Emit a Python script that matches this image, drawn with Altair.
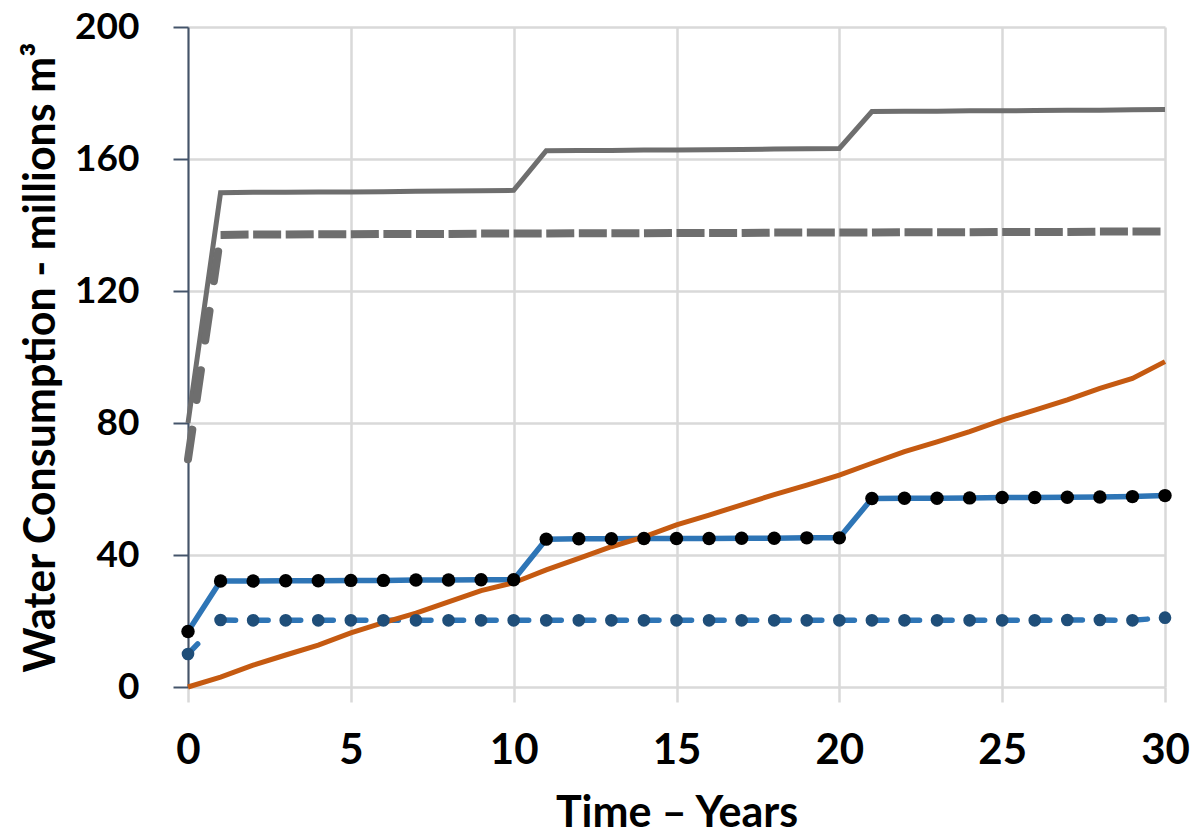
import altair as alt
import pandas as pd

years = list(range(31))

gray_solid = [80.0, 149.8, 149.9, 149.9, 150.0, 150.0, 150.1, 150.2, 150.3, 150.4, 150.5,
              162.5, 162.6, 162.6, 162.7, 162.7, 162.8, 162.9, 163.0, 163.1, 163.2,
              174.4, 174.5, 174.5, 174.6, 174.6, 174.7, 174.8, 174.8, 174.9, 175.0]

gray_dashed = [69.0, 137.0, 137.1, 137.1, 137.2, 137.2, 137.3, 137.3, 137.3, 137.4, 137.4,
               137.4, 137.5, 137.5, 137.5, 137.6, 137.6, 137.6, 137.7, 137.7, 137.7,
               137.7, 137.8, 137.8, 137.8, 137.9, 137.9, 137.9, 138.0, 138.0, 138.0]

orange = [0.0, 3.0, 6.6, 9.7, 12.7, 16.4, 19.5, 22.4, 25.8, 29.2, 31.6,
          35.5, 39.0, 42.5, 45.5, 49.1, 52.1, 55.2, 58.3, 61.2, 64.2,
          67.8, 71.3, 74.3, 77.4, 80.9, 83.9, 87.0, 90.5, 93.5, 98.6]

blue_solid = [16.8, 32.1, 32.1, 32.2, 32.2, 32.3, 32.3, 32.4, 32.4, 32.5, 32.5,
              44.8, 44.9, 44.9, 45.0, 45.0, 45.0, 45.1, 45.1, 45.2, 45.2,
              57.1, 57.2, 57.2, 57.3, 57.4, 57.4, 57.5, 57.6, 57.7, 58.0]

blue_dashed = [10.0, 20.3, 20.2, 20.2, 20.2, 20.2, 20.2, 20.2, 20.2, 20.2, 20.2,
               20.2, 20.2, 20.2, 20.2, 20.2, 20.2, 20.2, 20.2, 20.2, 20.2,
               20.2, 20.2, 20.2, 20.2, 20.2, 20.2, 20.3, 20.3, 20.2, 21.0]

x_ticks = [0, 5, 10, 15, 20, 25, 30]
y_ticks = [0, 40, 80, 120, 160, 200]

FONT = "Lato"
GRID = "#d9d9d9"
AXIS_DARK = "#44546a"


def df(xs, vs):
    return pd.DataFrame({"year": xs, "value": vs})


x_enc = alt.X(
    "year:Q",
    scale=alt.Scale(domain=[0, 30], nice=False, zero=False),
    axis=alt.Axis(
        values=x_ticks, title="Time – Years", grid=True, gridColor=GRID, gridWidth=2.5,
        domain=False, ticks=True, tickColor=GRID, tickWidth=2.5, tickSize=15,
        labelFont=FONT, labelFontWeight="bold", labelFontSize=42, labelColor="#000000",
        labelPadding=28, labelFlush=False,
        titleFont=FONT, titleFontWeight="bold", titleFontSize=43, titleColor="#000000",
        titleBaseline="alphabetic", titleY=139,
    ),
)

y_enc = alt.Y(
    "value:Q",
    scale=alt.Scale(domain=[0, 200], nice=False),
    axis=alt.Axis(
        values=y_ticks, title="Water Consumption - millions m³", grid=True, gridColor=GRID,
        gridWidth=2.5, domain=True, domainColor=AXIS_DARK, domainWidth=2,
        ticks=True, tickColor=AXIS_DARK, tickWidth=2, tickSize=15,
        labelFont=FONT, labelFontWeight="bold", labelFontSize=37, labelColor="#000000",
        labelPadding=34,
        titleFont=FONT, titleFontWeight="bold", titleFontSize=43, titleColor="#000000",
        titleAngle=270, titleBaseline="alphabetic", titleX=-134,
    ),
)

gray_solid_line = alt.Chart(df(years, gray_solid)).mark_line(
    color="#6e6e6e", strokeWidth=5
).encode(x=x_enc, y=y_enc)

gray_dash_a = alt.Chart(df(years[:2], gray_dashed[:2])).mark_line(
    color="#6e6e6e", strokeWidth=8, strokeDash=[30, 30], strokeCap="round"
).encode(x=x_enc, y=y_enc)

gray_dash_b = alt.Chart(df(years[1:], gray_dashed[1:])).mark_line(
    color="#6e6e6e", strokeWidth=8, strokeDash=[28, 4.57]
).encode(x=x_enc, y=y_enc)

orange_line = alt.Chart(df(years, orange)).mark_line(
    color="#c55a11", strokeWidth=5
).encode(x=x_enc, y=y_enc)

blue_solid_line = alt.Chart(df(years, blue_solid)).mark_line(
    color="#2e75b6", strokeWidth=5.5
).encode(x=x_enc, y=y_enc)

blue_dash_a = alt.Chart(df(years[:2], blue_dashed[:2])).mark_line(
    color="#2e75b6", strokeWidth=5.5, strokeDash=[14, 200], strokeCap="round"
).encode(x=x_enc, y=y_enc)

blue_dash_b = alt.Chart(df(years[1:], blue_dashed[1:])).mark_line(
    color="#2e75b6", strokeWidth=5.5, strokeDash=[15, 17.57], strokeCap="round"
).encode(x=x_enc, y=y_enc)

black_dots = alt.Chart(df(years, blue_solid)).mark_circle(
    color="#000000", size=180, opacity=1
).encode(x=x_enc, y=y_enc)

blue_dots = alt.Chart(df(years, blue_dashed)).mark_circle(
    color="#1f4e79", size=160, opacity=1
).encode(x=x_enc, y=y_enc)

chart = alt.layer(
    gray_solid_line, gray_dash_a, gray_dash_b, blue_solid_line, blue_dash_a, blue_dash_b,
    orange_line, black_dots, blue_dots
).properties(
    width=977, height=660,
    padding={"left": 188, "top": 27, "right": 29, "bottom": 149},
    autosize=alt.AutoSizeParams(type="none"),
    background="#ffffff",
).configure_view(stroke=None)

chart.save("out.html", embed_options={"renderer": "svg", "actions": False})
